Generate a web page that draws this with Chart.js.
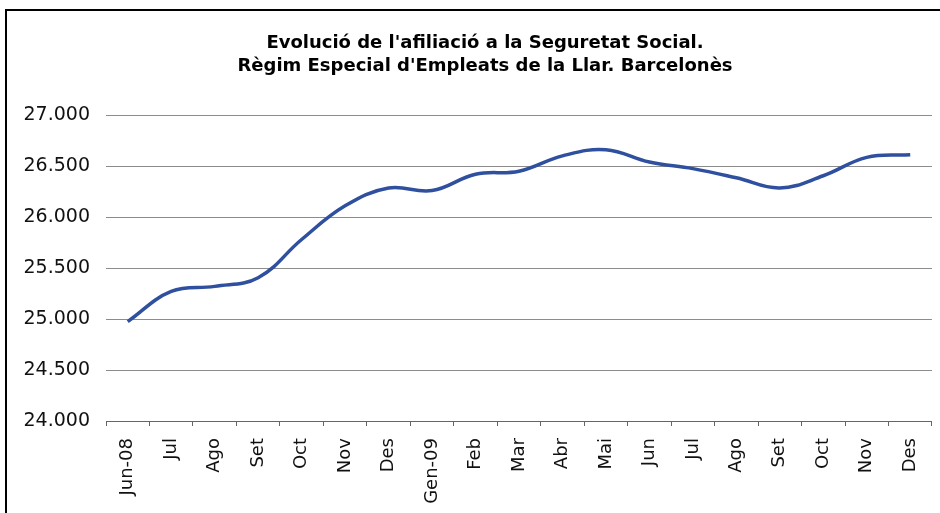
<!DOCTYPE html>
<html>
<head>
<meta charset="utf-8">
<script src="https://cdn.jsdelivr.net/npm/chart.js@4/dist/chart.umd.min.js"></script>
<style>
  html, body { margin: 0; padding: 0; background: #fff; overflow: hidden; }
  #frame { position: absolute; left: 5px; top: 9px; width: 960px; height: 540px; border: 2px solid #000; }
  #wrap { position: absolute; left: 0; top: 0; width: 944px; height: 513px; }
</style>
</head>
<body>
<div id="frame"></div>
<div id="wrap"><canvas id="chart"></canvas></div>
<script>
// months, Jun-08 .. Des-09
const months = ['Jun-08', 'Jul', 'Ago', 'Set', 'Oct', 'Nov', 'Des', 'Gen-09', 'Feb', 'Mar',
  'Abr', 'Mai', 'Jun', 'Jul', 'Ago', 'Set', 'Oct', 'Nov', 'Des'];
// affiliates
const afiliats = [24975, 25270, 25320, 25405, 25780, 26110, 26285, 26260, 26420, 26450,
  26600, 26660, 26540, 26475, 26385, 26285, 26405, 26585, 26610];
const titleLines = ["Evolució de l'afiliació a la Seguretat Social.",
  "Règim Especial d'Empleats de la Llar. Barcelonès"];
const yMin = 24000, yMax = 27000, yStep = 500;

const fmt = v => v.toLocaleString('de-DE');
const font = "'DejaVu Sans', Verdana, sans-serif";

// title sits a bit right of the canvas centre in the original
const titleShift = {
  id: 'titleShift',
  afterLayout(chart) {
    if (chart.titleBlock) chart.titleBlock.left = 33;
  }
};

new Chart(document.getElementById('chart'), {
  type: 'line',
  data: {
    labels: months,
    datasets: [{
      label: 'Afiliats',
      data: afiliats,
      borderColor: '#2f4f9f',
      borderWidth: 3.5,
      pointRadius: 0,
      tension: 0.4,
      fill: false
    }]
  },
  options: {
    responsive: true,
    maintainAspectRatio: false,
    animation: false,
    layout: { padding: { left: 15, right: 7, top: 0, bottom: 0 } },
    plugins: {
      legend: { display: false },
      tooltip: { enabled: false },
      title: {
        display: true,
        text: titleLines,
        color: '#000',
        font: { family: font, size: 18, weight: 'bold', lineHeight: 1.28 },
        padding: { top: 32, bottom: 37 }
      }
    },
    scales: {
      x: {
        offset: true,
        grid: {
          offset: true,
          drawOnChartArea: false,
          drawTicks: true,
          tickLength: 5,
          color: '#666'
        },
        border: { display: true, color: '#666', width: 1 },
        ticks: {
          color: '#111',
          font: { family: font, size: 18 },
          minRotation: 90,
          maxRotation: 90,
          autoSkip: false,
          padding: 12
        },
        afterFit: s => { s.height = 92; }
      },
      y: {
        min: yMin,
        max: yMax,
        grid: { color: '#8c8c8c', drawTicks: false, lineWidth: 1 },
        border: { display: false },
        ticks: {
          stepSize: yStep,
          color: '#111',
          font: { family: font, size: 19 },
          padding: 16,
          callback: v => fmt(v)
        },
        afterFit: s => { s.width = 91; }
      }
    }
  },
  plugins: [titleShift]
});
</script>
</body>
</html>
